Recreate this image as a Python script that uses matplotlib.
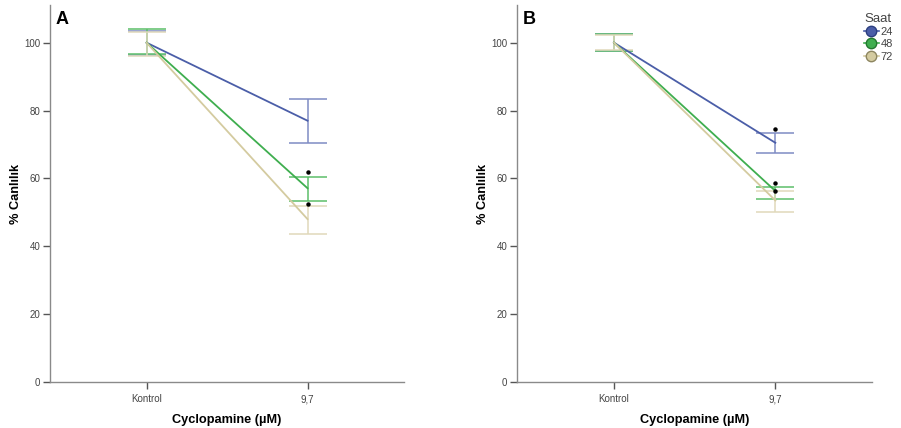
import matplotlib.pyplot as plt
import numpy as np

plt.rcParams['font.family'] = ['Liberation Sans', 'DejaVu Sans']

# categories on the x axis
groups = ['Kontrol', '9,7']
hours = ['24', '48', '72']
colors = ['#4b5ea8', '#3fae4f', '#d4cba0']
bar_colors = ['#7f8cc4', '#5cbf69', '#e0d9bb']
edge_colors = ['#2c3f80', '#23772f', '#8d8660']

# panel A: means and error limits (low, high)
A_mean = [[100, 77.0], [100, 57.1], [100, 48.0]]
A_low = [[96.5, 70.5], [96.8, 53.3], [96.0, 43.5]]
A_high = [[103.5, 83.5], [104.0, 60.5], [103.0, 51.9]]
A_star = [61.9, 52.4]

# panel B
B_mean = [[100, 70.5], [100, 56.3], [100, 53.5]]
B_low = [[97.5, 67.4], [97.6, 53.8], [97.8, 50.1]]
B_high = [[102.5, 73.4], [102.5, 57.6], [102.2, 56.3]]
B_star = [74.6, 58.7, 56.3]

fig = plt.figure(figsize=(9.01, 4.28), dpi=100)
axA = fig.add_axes([0.0555, 0.1075, 0.393, 0.88])
axB = fig.add_axes([0.574, 0.1075, 0.394, 0.88])

x = np.arange(len(groups))


def draw(ax, mean, low, high, stars, label):
    for i in range(len(hours)):
        m = np.array(mean[i])
        lo = m - np.array(low[i])
        hi = np.array(high[i]) - m
        ax.errorbar(x, m, yerr=[lo, hi], fmt='none', ecolor=bar_colors[i],
                    elinewidth=1.1, capsize=14, capthick=1.1, zorder=2)
        ax.plot(x, m, color=colors[i], lw=1.3, zorder=3)
    ax.plot([1] * len(stars), stars, 'o', color='black', ms=2.2, zorder=4)
    ax.set_xlim(-0.6, 1.6)
    ax.set_ylim(0, 111)
    ax.set_yticks([0, 20, 40, 60, 80, 100])
    ax.set_xticks(x)
    ax.set_xticklabels(groups)
    for s in ['top', 'right']:
        ax.spines[s].set_visible(False)
    for s in ['left', 'bottom']:
        ax.spines[s].set_color('#8a8a8a')
        ax.spines[s].set_linewidth(1.0)
    ax.tick_params(axis='both', colors='#555555', labelsize=7, length=5, width=1.0, pad=2)
    ax.tick_params(axis='x', pad=4)
    ax.tick_params(axis='both', labelcolor='#444444')
    ax.set_ylabel('% Canlılık', fontsize=9.2, fontweight='bold')
    ax.yaxis.set_label_coords(-0.08, 0.5)
    ax.set_xlabel('Cyclopamine (µM)', fontsize=9.2, fontweight='bold', labelpad=7)
    ax.text(0.015, 0.985, label, transform=ax.transAxes, fontsize=13,
            fontweight='bold', va='top', ha='left')


draw(axA, A_mean, A_low, A_high, A_star, 'A')
draw(axB, B_mean, B_low, B_high, B_star, 'B')

# legend
handles = []
for i in range(len(hours)):
    h, = axB.plot([], [], color=colors[i], marker='o', ms=7.5, mfc=colors[i],
                  mec=edge_colors[i], lw=1.2)
    handles.append(h)
leg = fig.legend(handles, hours, title='Saat', loc='upper left',
                 bbox_to_anchor=(0.956, 0.975), frameon=False, fontsize=8,
                 title_fontsize=9.5, handlelength=1.4, handletextpad=0.15,
                 labelspacing=0.2, borderaxespad=0, borderpad=0.2)
leg.get_title().set_color('#444444')
for t in leg.get_texts():
    t.set_color('#444444')

fig.savefig('out.png', dpi=100)
